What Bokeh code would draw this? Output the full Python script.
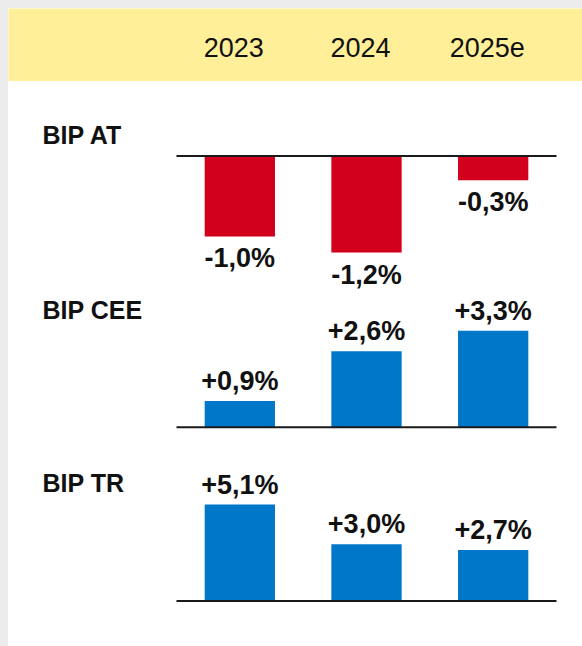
from bokeh.plotting import figure
from bokeh.models import Range1d, ColumnDataSource
from bokeh.layouts import column
from bokeh.core.properties import value
from bokeh.embed import file_html
from bokeh.resources import INLINE

# ---- data ----
years = ["2023", "2024", "2025e"]
panel_names = ["BIP AT", "BIP CEE", "BIP TR"]
bip_at = [-1.0, -1.2, -0.3]
bip_cee = [0.9, 2.6, 3.3]
bip_tr = [5.1, 3.0, 2.7]
series = [bip_at, bip_cee, bip_tr]

# ---- layout / style ----
W = 574
HEADER_H = 73
PANEL_H = [215, 167, 183]
ZERO_PX = [74.5, 130.7, 137.5]     # zero line, px below panel top
LABEL_BASE_PX = [53, 13, 19]       # panel-label offset, px below panel top
BAR_MAX_PX = 96.5
LEFT_PX = 168
RIGHT_PX = 26
BAR_W = 0.555
NEG_OFF = 22
POS_OFF = -20
YELLOW = "#FFEF99"
RED = "#D3001D"
BLUE = "#0077C8"
PAGE_BG = "#ECECEC"
FONT = "Liberation Sans"

n = len(years)
unit = (W - LEFT_PX - RIGHT_PX) / n
x_start = -0.5 - LEFT_PX / unit
x_end = n - 0.5 + RIGHT_PX / unit
xs = list(range(n))


def base_fig(h, bg="white"):
    p = figure(width=W, height=h, output_backend="svg", toolbar_location=None,
               x_range=Range1d(x_start, x_end), min_border=0,
               x_axis_location=None, y_axis_location=None)
    p.grid.visible = False
    p.outline_line_color = None
    p.background_fill_color = bg
    p.border_fill_color = bg
    return p


# header
hdr = base_fig(HEADER_H, YELLOW)
hdr.y_range = Range1d(HEADER_H, 0)
hdr.text(x=xs, y=[39] * n, text=years, x_offset=-6,
         text_font=value(FONT), text_font_size="27px", text_color="#111111",
         text_align="center", text_baseline="alphabetic")

figs = [hdr]
for name, vals, h, z, lb in zip(panel_names, series, PANEL_H, ZERO_PX, LABEL_BASE_PX):
    m = max(abs(v) for v in vals)
    ppu = BAR_MAX_PX / m
    top = z / ppu
    bottom = -(h - z) / ppu
    p = base_fig(h)
    p.y_range = Range1d(bottom, top)
    colors = [RED if v < 0 else BLUE for v in vals]
    src = ColumnDataSource(dict(x=xs, top=vals, color=colors,
                                label=[("+" if v > 0 else "") + f"{v:.1f}".replace(".", ",") + "%" for v in vals],
                                yoff=[NEG_OFF if v < 0 else POS_OFF for v in vals]))
    p.vbar(x="x", top="top", bottom=0, width=BAR_W, fill_color="color", line_color=None, source=src)
    p.segment(x0=[-0.5], x1=[n - 0.5], y0=[0], y1=[0], line_color="#1a1a1a", line_width=2)
    p.text(x="x", y="top", text="label", y_offset="yoff", source=src,
           text_font=value(FONT), text_font_style="bold", text_font_size="27px",
           text_color="#111111", text_align="center", text_baseline="alphabetic")
    p.text(x=[x_start + 34 / unit], y=[top], text=[name], y_offset=lb,
           text_font=value(FONT), text_font_style="bold", text_font_size="25px",
           text_color="#111111", text_align="left", text_baseline="alphabetic")
    figs.append(p)

layout = column(*figs, spacing=0, styles={"background-color": "white"})
html = file_html(layout, INLINE)
css = ("<style>html{margin:0 !important;padding:0 !important;background:%s !important;overflow:hidden !important}"
       "body{margin:0 !important;padding:8px 0 0 8px !important;background:%s !important;"
       "overflow:hidden !important}</style>" % (PAGE_BG, PAGE_BG))
html = html.replace("</head>", css + "</head>", 1)
open("out.html", "w").write(html)
